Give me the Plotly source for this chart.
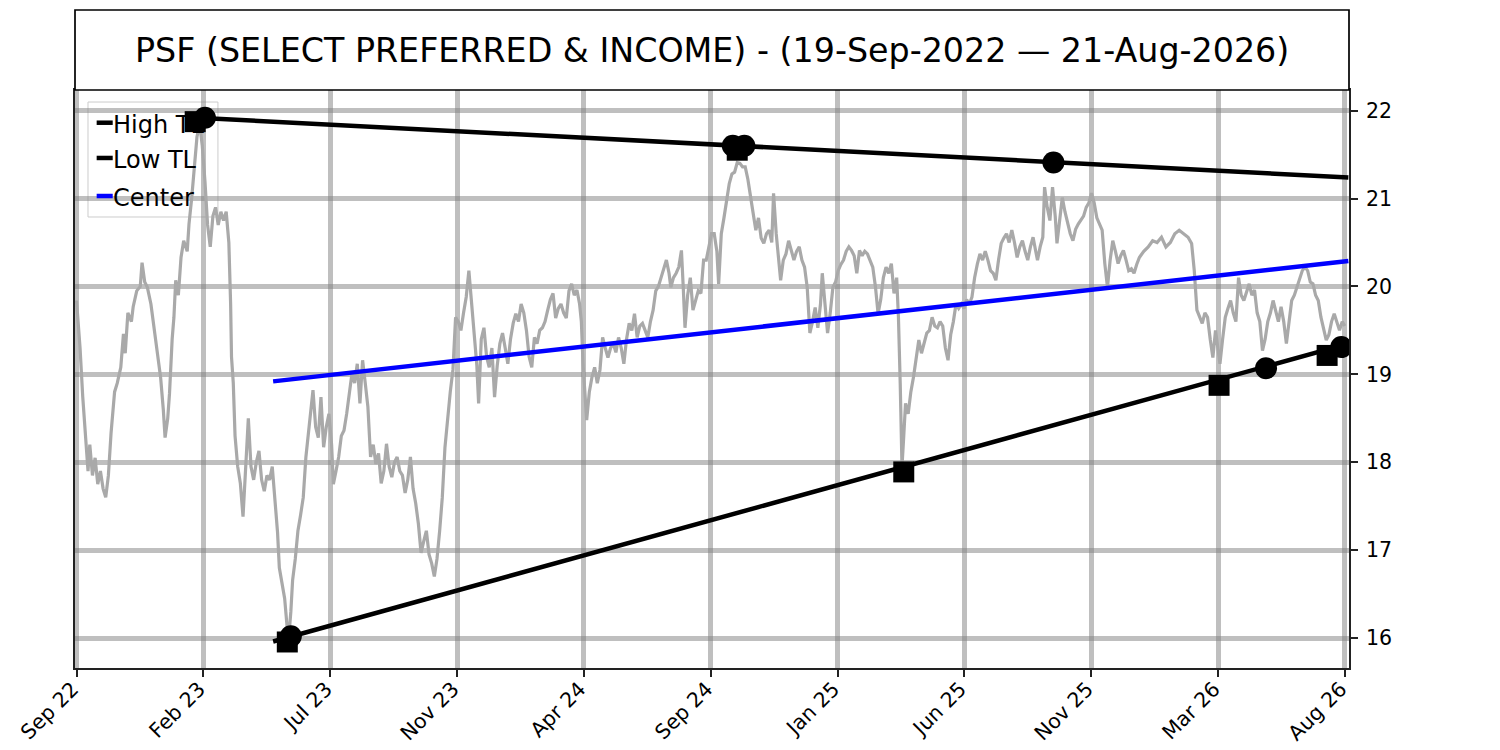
import pandas as pd
import plotly.graph_objects as go

start_date = pd.Timestamp("2022-09-19")
end_date = pd.Timestamp("2026-08-21")
title = "PSF (SELECT PREFERRED & INCOME) - (19-Sep-2022 \u2014 21-Aug-2026)"

# price: days after start_date, close
price_days = [
    0, 4, 7, 10, 13, 15, 18, 21, 24, 27, 30, 33, 36, 39, 43, 46, 50, 53, 55, 58,
    62, 64, 68, 72, 74, 77, 80, 84, 86, 90, 95, 98, 100, 103, 105, 108, 110, 112, 115, 118,
    121, 125, 127, 130, 133, 136, 139, 142, 145, 148, 151, 154, 157, 160, 163, 166, 169, 172, 174, 175,
    177, 179, 182, 185, 188, 191, 194, 197, 200, 203, 206, 209, 212, 215, 218, 221, 224, 227, 229, 232,
    235, 238, 240, 242, 244, 247, 250, 253, 256, 259, 262, 265, 267, 270, 273, 276, 279, 282, 285, 288,
    290, 293, 296, 299, 302, 305, 308, 311, 314, 317, 320, 323, 326, 329, 332, 335, 338, 341, 344, 347,
    350, 353, 356, 359, 362, 365, 368, 371, 374, 377, 380, 383, 386, 389, 392, 395, 398, 401, 404, 407,
    410, 413, 416, 419, 422, 425, 428, 431, 434, 437, 440, 443, 446, 449, 452, 454, 457, 460, 463, 466,
    469, 472, 475, 478, 481, 484, 487, 490, 493, 496, 499, 502, 505, 508, 511, 514, 517, 520, 523, 526,
    529, 532, 535, 538, 541, 544, 547, 550, 553, 556, 559, 562, 565, 568, 570, 572, 574, 576, 579, 582,
    585, 588, 591, 594, 597, 600, 603, 606, 609, 612, 615, 618, 621, 624, 627, 630, 633, 636, 639, 642,
    645, 648, 651, 654, 657, 660, 663, 666, 669, 671, 674, 677, 680, 683, 685, 687, 690, 693, 696, 699,
    702, 705, 708, 711, 714, 717, 720, 723, 725, 728, 731, 734, 737, 740, 743, 746, 749, 752, 755, 758,
    761, 764, 767, 770, 773, 776, 779, 782, 785, 787, 790, 792, 795, 798, 801, 804, 807, 810, 813, 816,
    819, 822, 825, 828, 831, 834, 837, 840, 842, 845, 848, 851, 854, 857, 860, 863, 866, 869, 872, 875,
    878, 881, 884, 887, 890, 893, 896, 899, 902, 905, 908, 911, 914, 917, 920, 923, 926, 928, 930, 932,
    934, 936, 939, 942, 945, 948, 951, 954, 957, 960, 963, 966, 969, 972, 975, 978, 981, 984, 987, 990,
    993, 996, 999, 1002, 1005, 1008, 1011, 1014, 1017, 1020, 1023, 1026, 1029, 1032, 1035, 1038, 1041, 1044, 1047, 1050,
    1053, 1056, 1059, 1062, 1065, 1068, 1071, 1074, 1077, 1080, 1083, 1085, 1088, 1091, 1093, 1096, 1099, 1102, 1105, 1107,
    1110, 1113, 1116, 1119, 1122, 1125, 1128, 1131, 1134, 1137, 1140, 1143, 1146, 1149, 1152, 1155, 1158, 1161, 1164, 1167,
    1170, 1173, 1176, 1179, 1182, 1185, 1188, 1191, 1194, 1197, 1200, 1205, 1210, 1215, 1220, 1225, 1230, 1235, 1240, 1245,
    1250, 1255, 1259, 1262, 1265, 1268, 1271, 1274, 1277, 1280, 1283, 1286, 1289, 1291, 1294, 1297, 1300, 1303, 1306, 1309,
    1312, 1315, 1318, 1321, 1324, 1327, 1330, 1333, 1336, 1339, 1342, 1345, 1348, 1351, 1354, 1357, 1360, 1363, 1366, 1369,
    1372, 1375, 1378, 1381, 1384, 1387, 1390, 1393, 1396, 1399, 1402, 1405, 1408, 1411, 1414, 1417, 1420, 1423, 1426, 1429,
    1432,
]
price_vals = [
    19.84, 19.3, 18.75, 18.3, 17.9, 18.2, 17.85, 18.05, 17.75, 17.9, 17.7, 17.6, 17.85, 18.33, 18.8, 18.9, 19.08, 19.46, 19.24, 19.7,
    19.6, 19.77, 19.95, 20.0, 20.27, 20.05, 19.99, 19.8, 19.65, 19.35, 18.96, 18.6, 18.28, 18.5, 18.78, 19.4, 19.65, 20.07, 19.9, 20.33,
    20.52, 20.4, 20.71, 21.0, 21.4, 21.7, 21.85, 21.6, 21.2, 20.7, 20.45, 20.8, 20.9, 20.7, 20.85, 20.75, 20.85, 20.5, 19.8, 19.2,
    18.9, 18.3, 17.95, 17.76, 17.38, 17.9, 18.5, 17.95, 17.8, 18.0, 18.13, 17.8, 17.67, 17.85, 17.8, 17.95, 17.6, 17.2, 16.8, 16.6,
    16.45, 16.1, 16.05, 16.3, 16.66, 16.9, 17.22, 17.4, 17.6, 18.06, 18.36, 18.6, 18.82, 18.4, 18.28, 18.74, 18.17, 18.4, 18.55, 18.2,
    17.75, 17.9, 18.06, 18.3, 18.36, 18.55, 18.75, 19.01, 18.9, 19.12, 18.67, 19.16, 18.9, 18.63, 18.06, 18.2, 17.98, 18.1, 17.76, 17.9,
    18.21, 17.95, 17.83, 18.0, 18.06, 17.9, 17.85, 17.65, 17.8, 18.06, 17.7, 17.53, 17.3, 16.97, 17.1, 17.22, 16.95, 16.85, 16.7, 16.9,
    17.22, 17.6, 18.17, 18.51, 18.8, 19.05, 19.65, 19.6, 19.5, 19.7, 19.88, 20.18, 19.8, 19.5, 19.1, 18.67, 19.4, 19.53, 19.2, 19.08,
    19.3, 18.74, 19.1, 19.35, 19.47, 19.3, 19.12, 19.4, 19.58, 19.69, 19.6, 19.8, 19.7, 19.5, 19.2, 19.08, 19.42, 19.35, 19.5, 19.53,
    19.6, 19.73, 19.85, 19.92, 19.64, 19.75, 19.8, 19.7, 19.64, 19.95, 20.03, 19.9, 19.96, 19.8, 19.6, 19.1, 18.7, 18.48, 18.8, 18.97,
    19.08, 18.9, 19.05, 19.42, 19.3, 19.19, 19.3, 19.35, 19.25, 19.42, 19.3, 19.12, 19.4, 19.58, 19.5, 19.69, 19.42, 19.55, 19.58, 19.5,
    19.42, 19.6, 19.73, 19.95, 20.0, 20.1, 20.2, 20.3, 20.15, 19.99, 20.1, 20.15, 20.22, 20.41, 20.0, 19.53, 19.9, 20.1, 19.73, 19.85,
    19.95, 19.92, 20.3, 20.3, 20.44, 20.6, 20.6, 20.4, 20.03, 20.6, 20.78, 21.0, 21.17, 21.28, 21.3, 21.41, 21.4, 21.36, 21.36, 21.22,
    21.0, 20.83, 20.64, 20.78, 20.55, 20.49, 20.6, 20.64, 20.5, 21.06, 20.6, 20.37, 20.07, 20.3, 20.37, 20.52, 20.4, 20.3, 20.4, 20.45,
    20.3, 20.22, 19.99, 19.47, 19.6, 19.76, 19.53, 19.8, 20.15, 19.8, 19.47, 19.7, 19.99, 20.05, 20.18, 20.25, 20.3, 20.4, 20.45, 20.41,
    20.35, 20.15, 20.41, 20.35, 20.4, 20.37, 20.3, 20.22, 20.0, 19.69, 19.85, 20.1, 20.22, 20.15, 20.26, 19.92, 20.1, 19.65, 18.9, 17.95,
    18.3, 18.67, 18.55, 18.8, 18.97, 19.2, 19.39, 19.24, 19.35, 19.47, 19.5, 19.65, 19.55, 19.53, 19.6, 19.55, 19.3, 19.16, 19.45, 19.6,
    19.8, 19.75, 19.8, 19.75, 19.85, 19.8, 19.88, 20.1, 20.25, 20.37, 20.3, 20.4, 20.3, 20.18, 20.15, 20.07, 20.3, 20.49, 20.55, 20.6,
    20.5, 20.64, 20.5, 20.33, 20.45, 20.52, 20.4, 20.3, 20.45, 20.56, 20.4, 20.3, 20.45, 20.56, 21.13, 20.9, 20.75, 21.13, 20.8, 20.49,
    20.75, 21.01, 20.85, 20.71, 20.6, 20.52, 20.65, 20.71, 20.75, 20.8, 20.9, 20.95, 21.06, 20.95, 20.78, 20.7, 20.64, 20.26, 19.99, 20.3,
    20.52, 20.4, 20.26, 20.35, 20.41, 20.3, 20.18, 20.2, 20.15, 20.25, 20.33, 20.4, 20.45, 20.52, 20.5, 20.56, 20.45, 20.5, 20.6, 20.64,
    20.6, 20.56, 20.49, 20.18, 19.73, 19.65, 19.58, 19.7, 19.65, 19.4, 19.19, 19.5, 19.3, 19.12, 19.4, 19.65, 19.75, 19.84, 19.7, 19.6,
    20.1, 19.9, 19.84, 19.95, 20.03, 19.9, 19.96, 19.7, 19.6, 19.27, 19.4, 19.6, 19.7, 19.84, 19.7, 19.6, 19.77, 19.6, 19.35, 19.6,
    19.84, 19.9, 19.99, 20.1, 20.18, 20.22, 20.18, 20.05, 20.03, 19.9, 19.84, 19.65, 19.5, 19.39, 19.45, 19.6, 19.69, 19.6, 19.5, 19.6,
    19.55,
]

# trend lines (end points)
high_tl_days = [136, 1436]
high_tl_vals = [21.92, 21.24]
low_tl_days = [222, 1436]
low_tl_vals = [15.96, 19.35]
center_days = [222, 1436]
center_vals = [18.92, 20.29]

# pivot markers
high_sq_days = [134, 746]
high_sq_vals = [21.875, 21.55]
high_dot_days = [145, 741, 754, 1103]
high_dot_vals = [21.92, 21.60, 21.60, 21.41]
low_sq_days = [238, 934, 1290, 1412]
low_sq_vals = [15.955, 17.89, 18.875, 19.215]
low_dot_days = [242, 1343, 1428]
low_dot_vals = [16.02, 19.07, 19.31]

tick_labels = ["Sep 22", "Feb 23", "Jul 23", "Nov 23", "Apr 24", "Sep 24",
               "Jan 25", "Jun 25", "Nov 25", "Mar 26", "Aug 26"]
y_ticks = [16, 17, 18, 19, 20, 21, 22]

legend_labels = ["High TL", "Low TL", "Center"]
legend_colors = ["black", "black", "blue"]


def to_dates(days):
    return start_date + pd.to_timedelta(days, unit="D")


FONT = "DejaVu Sans"
GRID = "rgba(128,128,128,0.5)"

fig = go.Figure()

fig.add_trace(go.Scatter(x=to_dates(price_days), y=price_vals, mode="lines",
                         line=dict(color="#a9a9a9", width=3.2), name="Price"))
fig.add_trace(go.Scatter(x=to_dates(high_tl_days), y=high_tl_vals, mode="lines",
                         line=dict(color="black", width=4.5), name="High TL"))
fig.add_trace(go.Scatter(x=to_dates(low_tl_days), y=low_tl_vals, mode="lines",
                         line=dict(color="black", width=4.5), name="Low TL"))
fig.add_trace(go.Scatter(x=to_dates(center_days), y=center_vals, mode="lines",
                         line=dict(color="blue", width=4.5), name="Center"))

for days, vals, sym, size in [(high_sq_days, high_sq_vals, "square", 21),
                              (low_sq_days, low_sq_vals, "square", 21),
                              (high_dot_days, high_dot_vals, "circle", 22),
                              (low_dot_days, low_dot_vals, "circle", 22)]:
    fig.add_trace(go.Scatter(x=to_dates(days), y=vals, mode="markers",
                             marker=dict(symbol=sym, size=size, color="black", line=dict(width=0))))

tick_pos = pd.date_range(start_date, end_date, periods=len(tick_labels))

axis_style = dict(showline=True, linecolor="#222222", linewidth=1.7, mirror=True,
                  ticks="outside", ticklen=7, tickwidth=1.7, tickcolor="#222222",
                  showgrid=True, gridcolor=GRID, gridwidth=5, zeroline=False,
                  automargin=False,
                  tickfont=dict(family=FONT, size=20.5, color="black"))

fig.update_xaxes(type="date",
                 range=[start_date - pd.Timedelta(days=1.7), start_date + pd.Timedelta(days=1436.7)],
                 tickvals=tick_pos, ticktext=tick_labels, tickangle=-45,
                 ticklabelstandoff=-8, ticklabelshift=-4, **axis_style)
fig.update_yaxes(side="right", range=[15.659, 22.235], tickvals=y_ticks,
                 ticktext=[str(t) for t in y_ticks], ticklabelstandoff=4, **axis_style)

# title box above the plot
fig.add_shape(type="rect", xref="paper", yref="paper", x0=0, x1=1, y0=1, y1=1.1384,
              line=dict(color="black", width=1.7), fillcolor="white", layer="above")
fig.add_annotation(text=title, xref="paper", yref="paper", x=0.5, y=1.0692,
                   xanchor="center", yanchor="middle", showarrow=False,
                   font=dict(family=FONT, size=33.3, color="black"))

# legend drawn by hand (short handles like matplotlib)
fig.add_shape(type="rect", xref="paper", yref="paper", x0=0.0102, x1=0.1122, y0=0.7803, y1=0.9792,
              line=dict(color="#cccccc", width=1), fillcolor="rgba(255,255,255,0.8)", layer="between")
legend_y = [0.9434, 0.8824, 0.8166]
for label, color, ly in zip(legend_labels, legend_colors, legend_y):
    fig.add_shape(type="line", xref="paper", yref="paper", x0=0.0170, x1=0.0296, y0=ly, y1=ly,
                  line=dict(color=color, width=4.5), layer="above")
    fig.add_annotation(text=label, xref="paper", yref="paper", x=0.0285, y=ly - 0.0035,
                       xanchor="left", yanchor="middle", showarrow=False,
                       font=dict(family=FONT, size=24, color="black"))

fig.update_layout(width=1500, height=750, showlegend=False,
                  margin=dict(l=75, r=151, t=90, b=82),
                  plot_bgcolor="white", paper_bgcolor="white",
                  font=dict(family=FONT, color="black"))

# page body margin would shift the figure by 8px
fig.write_html("out.html", config={"displayModeBar": False},
               post_script="document.body.style.margin = '0px';")
